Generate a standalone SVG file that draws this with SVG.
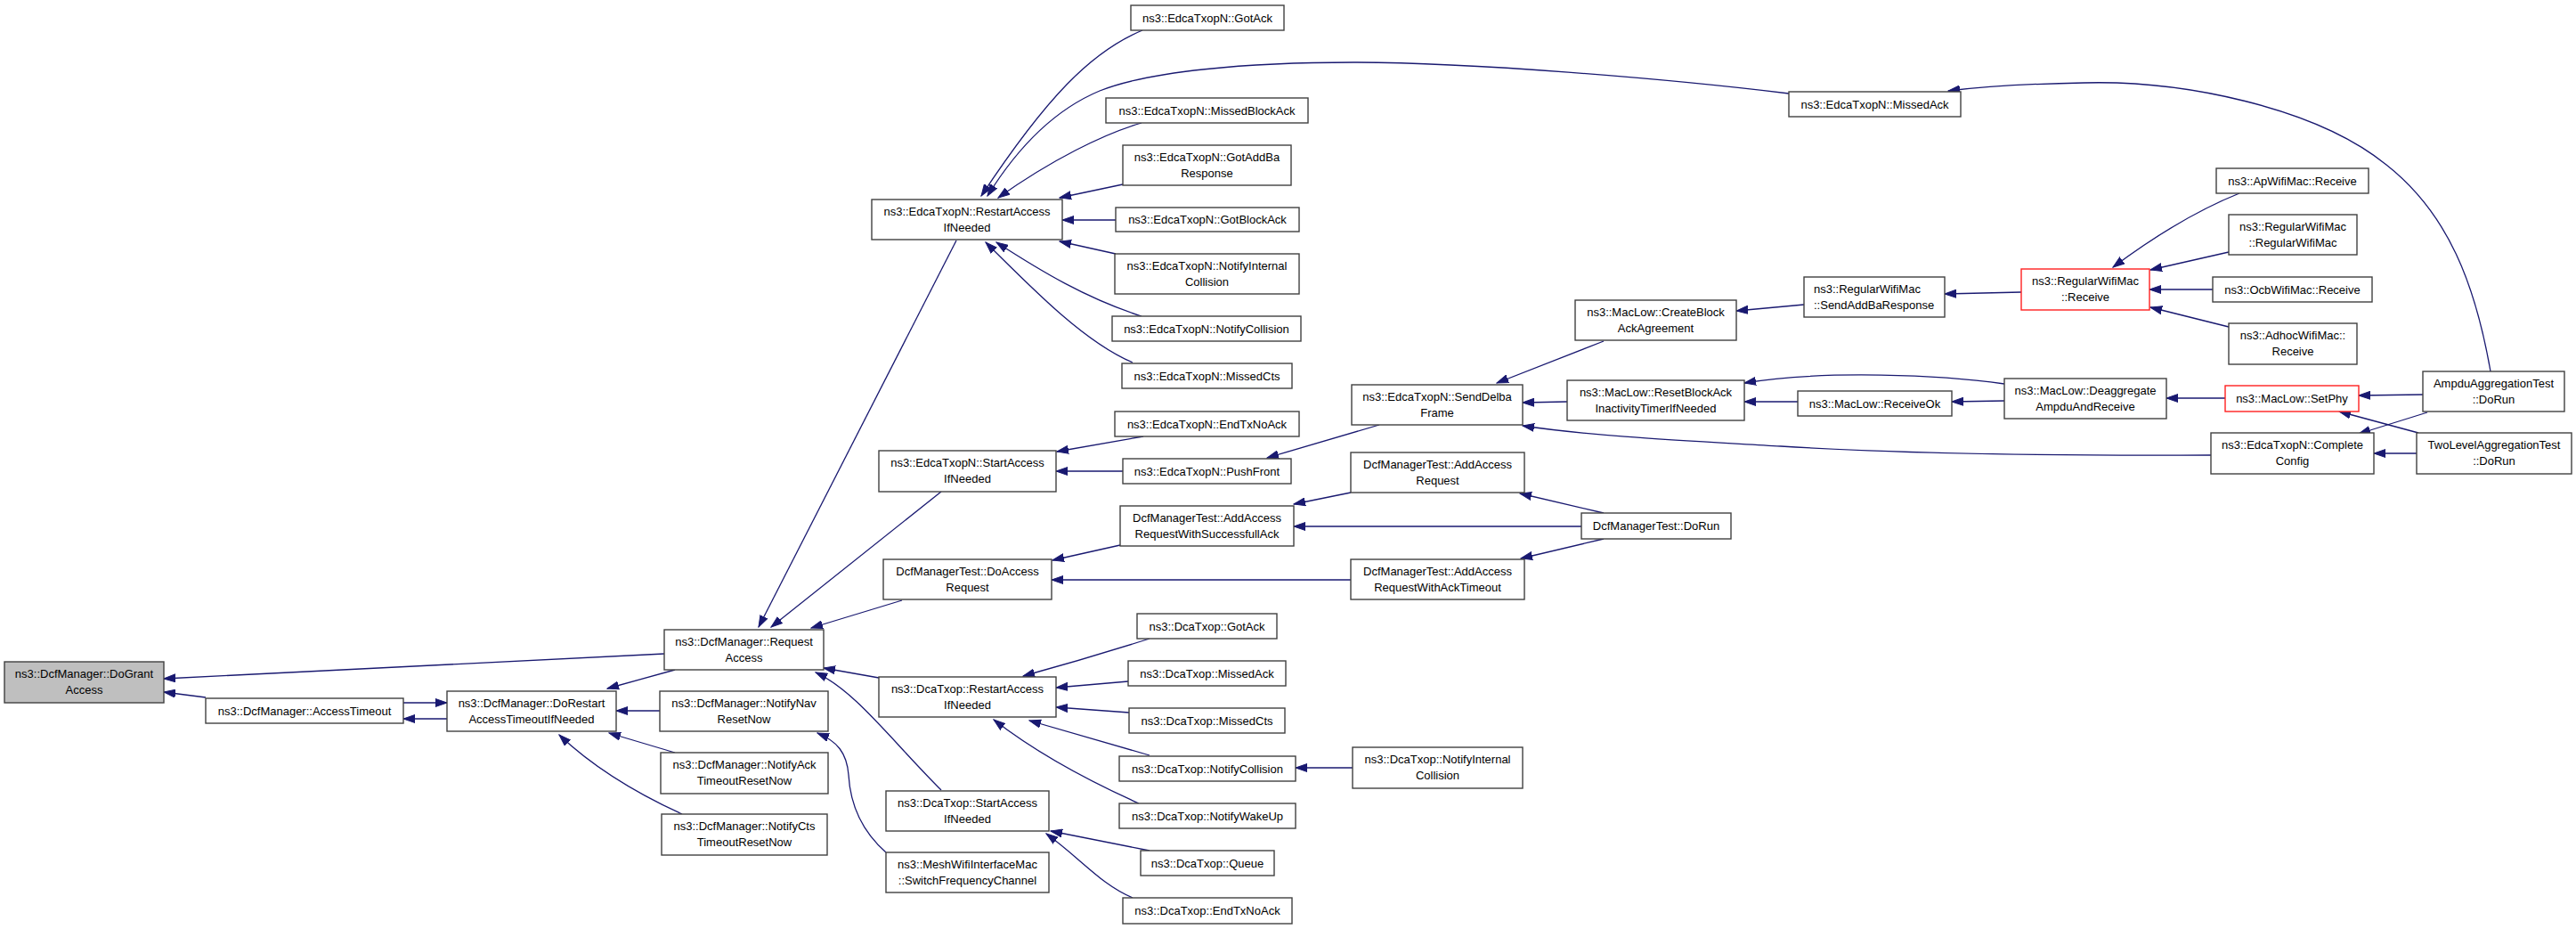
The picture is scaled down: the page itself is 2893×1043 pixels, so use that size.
<svg xmlns="http://www.w3.org/2000/svg" width="2893" height="1043" viewBox="0 0 2893 1043">
<style>
.node rect{fill:#ffffff;stroke:#404040;stroke-width:1.4}
.node.hl rect{fill:#bfbfbf}
.node.red rect{stroke:#ff2020}
.node text{font-family:"Liberation Sans",Arial,sans-serif;font-size:13px;text-anchor:middle;fill:#000}
.node text.l{text-anchor:start}
.edge path{fill:none;stroke:#191970;stroke-width:1.3;marker-end:url(#arr)}
</style>
<defs>
<marker id="arr" markerUnits="userSpaceOnUse" markerWidth="14" markerHeight="10" refX="13" refY="5" orient="auto"><path d="M0,0.5 L13,5 L0,9.5 z" fill="#191970" stroke="#191970" stroke-width="1"/></marker>
</defs>
<rect width="2893" height="1043" fill="#ffffff"/>
<g id="edges" class="edge">
<path d="M746,734 L184,762"/>
<path d="M231,783 L184,777"/>
<path d="M453,789 L502,789"/>
<path d="M502,807 L453,807"/>
<path d="M758,752 L682,773"/>
<path d="M741,798 L692,798"/>
<path d="M758,845 L684,823"/>
<path d="M766,914 C720,893 670,865 628,825"/>
<path d="M1074,270 L852,704"/>
<path d="M1057,552 L866,704"/>
<path d="M1013,674 L911,705"/>
<path d="M987,761 L925,750"/>
<path d="M1057,887 C1000,830 960,775 916,755"/>
<path d="M995,957 C970,935 955,905 953,870 C951,845 940,832 918,823"/>
<path d="M1283,34 C1225,58 1175,110 1102,220"/>
<path d="M2009,105 C1870,88 1650,70 1520,70 C1400,70 1290,80 1235,102 C1180,125 1140,170 1109,220"/>
<path d="M1282,138 C1240,150 1180,180 1121,222"/>
<path d="M1261,207 L1190,222"/>
<path d="M1253,247 L1193,247"/>
<path d="M1253,285 L1190,271"/>
<path d="M1282,355 C1220,335 1170,305 1119,272"/>
<path d="M1272,407 C1220,385 1165,330 1107,272"/>
<path d="M1284,490 L1187,507"/>
<path d="M1261,529 L1186,529"/>
<path d="M1549,477 L1423,514"/>
<path d="M1258,612 L1182,629"/>
<path d="M1517,651 L1181,651"/>
<path d="M1291,717 C1250,730 1200,745 1149,759"/>
<path d="M1267,765 L1186,772"/>
<path d="M1268,800 L1186,794"/>
<path d="M1291,848 L1156,809"/>
<path d="M1279,902 C1230,880 1170,850 1116,808"/>
<path d="M1291,955 L1180,933"/>
<path d="M1272,1008 C1235,992 1215,965 1175,936"/>
<path d="M1519,862 L1455,862"/>
<path d="M1517,553 L1453,566"/>
<path d="M1776,591 L1453,591"/>
<path d="M1801,576 L1707,554"/>
<path d="M1801,605 L1708,627"/>
<path d="M2026,342 L1950,349"/>
<path d="M1801,383 L1681,430"/>
<path d="M1760,451 L1710,452"/>
<path d="M2019,451 L1959,451"/>
<path d="M2251,431 C2180,421 2050,415 1959,430"/>
<path d="M2483,511 C2300,512 2150,510 2000,501 C1900,495 1790,490 1710,478"/>
<path d="M2270,328 L2184,330"/>
<path d="M2515,217 C2470,235 2420,265 2373,300"/>
<path d="M2503,283 L2415,303"/>
<path d="M2485,325 L2414,325"/>
<path d="M2503,367 L2415,345"/>
<path d="M2251,450 L2192,451"/>
<path d="M2499,447 L2433,447"/>
<path d="M2721,443 L2649,444"/>
<path d="M2726,463 L2649,487"/>
<path d="M2716,486 L2627,462"/>
<path d="M2714,509 L2666,509"/>
<path d="M2797,417 C2780,320 2750,240 2680,185 C2600,120 2450,90 2340,93 C2280,94 2230,97 2188,102"/>
</g>
<g id="n_dogrant" class="node hl"><rect x="5" y="743" width="179" height="46"/><text x="94.5" y="761">ns3::DcfManager::DoGrant</text><text x="94.5" y="778.5">Access</text></g>
<g id="n_accesstimeout" class="node"><rect x="231" y="784" width="222" height="28"/><text x="342" y="802.5">ns3::DcfManager::AccessTimeout</text></g>
<g id="n_dorestart" class="node"><rect x="502" y="776" width="190" height="45"/><text x="597" y="794">ns3::DcfManager::DoRestart</text><text x="597" y="811.5">AccessTimeoutIfNeeded</text></g>
<g id="n_requestaccess" class="node"><rect x="746" y="707" width="179" height="45"/><text x="835.5" y="725">ns3::DcfManager::Request</text><text x="835.5" y="742.5">Access</text></g>
<g id="n_notifynav" class="node"><rect x="741" y="776" width="189" height="45"/><text x="835.5" y="794">ns3::DcfManager::NotifyNav</text><text x="835.5" y="811.5">ResetNow</text></g>
<g id="n_notifyack" class="node"><rect x="742" y="845" width="188" height="46"/><text x="836" y="863">ns3::DcfManager::NotifyAck</text><text x="836" y="880.5">TimeoutResetNow</text></g>
<g id="n_notifycts" class="node"><rect x="743" y="914" width="186" height="46"/><text x="836" y="932">ns3::DcfManager::NotifyCts</text><text x="836" y="949.5">TimeoutResetNow</text></g>
<g id="n_edca_restart" class="node"><rect x="979" y="224" width="214" height="45"/><text x="1086" y="242">ns3::EdcaTxopN::RestartAccess</text><text x="1086" y="259.5">IfNeeded</text></g>
<g id="n_edca_startaccess" class="node"><rect x="987" y="506" width="199" height="46"/><text x="1086.5" y="524">ns3::EdcaTxopN::StartAccess</text><text x="1086.5" y="541.5">IfNeeded</text></g>
<g id="n_doaccessrequest" class="node"><rect x="992" y="628" width="189" height="45"/><text x="1086.5" y="646">DcfManagerTest::DoAccess</text><text x="1086.5" y="663.5">Request</text></g>
<g id="n_dca_restart" class="node"><rect x="987" y="760" width="199" height="45"/><text x="1086.5" y="778">ns3::DcaTxop::RestartAccess</text><text x="1086.5" y="795.5">IfNeeded</text></g>
<g id="n_dca_startaccess" class="node"><rect x="995" y="888" width="183" height="45"/><text x="1086.5" y="906">ns3::DcaTxop::StartAccess</text><text x="1086.5" y="923.5">IfNeeded</text></g>
<g id="n_switchfreq" class="node"><rect x="995" y="957" width="183" height="45"/><text x="1086.5" y="975">ns3::MeshWifiInterfaceMac</text><text x="1086.5" y="992.5">::SwitchFrequencyChannel</text></g>
<g id="n_edca_gotack" class="node"><rect x="1270" y="6" width="172" height="28"/><text x="1356" y="24.5">ns3::EdcaTxopN::GotAck</text></g>
<g id="n_edca_missedblockack" class="node"><rect x="1242" y="110" width="227" height="28"/><text x="1355.5" y="128.5">ns3::EdcaTxopN::MissedBlockAck</text></g>
<g id="n_edca_gotaddba" class="node"><rect x="1261" y="163" width="189" height="45"/><text x="1355.5" y="181">ns3::EdcaTxopN::GotAddBa</text><text x="1355.5" y="198.5">Response</text></g>
<g id="n_edca_gotblockack" class="node"><rect x="1253" y="233" width="206" height="27"/><text x="1356" y="251">ns3::EdcaTxopN::GotBlockAck</text></g>
<g id="n_edca_notifyinternal" class="node"><rect x="1252" y="285" width="207" height="45"/><text x="1355.5" y="303">ns3::EdcaTxopN::NotifyInternal</text><text x="1355.5" y="320.5">Collision</text></g>
<g id="n_edca_notifycollision" class="node"><rect x="1249" y="355" width="212" height="28"/><text x="1355" y="373.5">ns3::EdcaTxopN::NotifyCollision</text></g>
<g id="n_edca_missedcts" class="node"><rect x="1260" y="408" width="191" height="28"/><text x="1355.5" y="426.5">ns3::EdcaTxopN::MissedCts</text></g>
<g id="n_edca_endtxnoack" class="node"><rect x="1252" y="462" width="207" height="28"/><text x="1355.5" y="480.5">ns3::EdcaTxopN::EndTxNoAck</text></g>
<g id="n_edca_pushfront" class="node"><rect x="1261" y="515" width="189" height="28"/><text x="1355.5" y="533.5">ns3::EdcaTxopN::PushFront</text></g>
<g id="n_addaccess_success" class="node"><rect x="1258" y="568" width="195" height="45"/><text x="1355.5" y="586">DcfManagerTest::AddAccess</text><text x="1355.5" y="603.5">RequestWithSuccessfullAck</text></g>
<g id="n_dca_gotack" class="node"><rect x="1277" y="689" width="157" height="28"/><text x="1355.5" y="707.5">ns3::DcaTxop::GotAck</text></g>
<g id="n_dca_missedack" class="node"><rect x="1267" y="742" width="177" height="28"/><text x="1355.5" y="760.5">ns3::DcaTxop::MissedAck</text></g>
<g id="n_dca_missedcts" class="node"><rect x="1268" y="795" width="175" height="28"/><text x="1355.5" y="813.5">ns3::DcaTxop::MissedCts</text></g>
<g id="n_dca_notifycollision" class="node"><rect x="1257" y="849" width="198" height="28"/><text x="1356" y="867.5">ns3::DcaTxop::NotifyCollision</text></g>
<g id="n_dca_notifywakeup" class="node"><rect x="1257" y="902" width="198" height="28"/><text x="1356" y="920.5">ns3::DcaTxop::NotifyWakeUp</text></g>
<g id="n_dca_queue" class="node"><rect x="1281" y="955" width="150" height="28"/><text x="1356" y="973.5">ns3::DcaTxop::Queue</text></g>
<g id="n_dca_endtxnoack" class="node"><rect x="1261" y="1008" width="190" height="29"/><text x="1356" y="1026.5">ns3::DcaTxop::EndTxNoAck</text></g>
<g id="n_senddelba" class="node"><rect x="1518" y="432" width="192" height="45"/><text x="1614" y="450">ns3::EdcaTxopN::SendDelba</text><text x="1614" y="467.5">Frame</text></g>
<g id="n_addaccessrequest" class="node"><rect x="1517" y="508" width="195" height="45"/><text x="1614.5" y="526">DcfManagerTest::AddAccess</text><text x="1614.5" y="543.5">Request</text></g>
<g id="n_addaccess_acktimeout" class="node"><rect x="1517" y="628" width="195" height="45"/><text x="1614.5" y="646">DcfManagerTest::AddAccess</text><text x="1614.5" y="663.5">RequestWithAckTimeout</text></g>
<g id="n_dca_notifyinternal" class="node"><rect x="1519" y="839" width="191" height="46"/><text x="1614.5" y="857">ns3::DcaTxop::NotifyInternal</text><text x="1614.5" y="874.5">Collision</text></g>
<g id="n_createblock" class="node"><rect x="1769" y="337" width="181" height="45"/><text x="1859.5" y="355">ns3::MacLow::CreateBlock</text><text x="1859.5" y="372.5">AckAgreement</text></g>
<g id="n_resetblock" class="node"><rect x="1760" y="427" width="199" height="45"/><text x="1859.5" y="445">ns3::MacLow::ResetBlockAck</text><text x="1859.5" y="462.5">InactivityTimerIfNeeded</text></g>
<g id="n_dorun" class="node"><rect x="1776" y="576" width="168" height="29"/><text x="1860" y="594.5">DcfManagerTest::DoRun</text></g>
<g id="n_edca_missedack" class="node"><rect x="2009" y="103" width="193" height="28"/><text x="2105.5" y="121.5">ns3::EdcaTxopN::MissedAck</text></g>
<g id="n_sendaddba" class="node"><rect x="2026" y="311" width="158" height="45"/><text class="l" x="2037" y="329">ns3::RegularWifiMac</text><text class="l" x="2037" y="346.5">::SendAddBaResponse</text></g>
<g id="n_receiveok" class="node"><rect x="2019" y="439" width="173" height="28"/><text x="2105.5" y="457.5">ns3::MacLow::ReceiveOk</text></g>
<g id="n_rw_receive" class="node red"><rect x="2270" y="302" width="144" height="46"/><text x="2342" y="320">ns3::RegularWifiMac</text><text x="2342" y="337.5">::Receive</text></g>
<g id="n_deaggregate" class="node"><rect x="2251" y="425" width="182" height="45"/><text x="2342" y="443">ns3::MacLow::Deaggregate</text><text x="2342" y="460.5">AmpduAndReceive</text></g>
<g id="n_apwifi" class="node"><rect x="2489" y="189" width="171" height="28"/><text x="2574.5" y="207.5">ns3::ApWifiMac::Receive</text></g>
<g id="n_rw_rw" class="node"><rect x="2503" y="241" width="144" height="45"/><text x="2575" y="259">ns3::RegularWifiMac</text><text x="2575" y="276.5">::RegularWifiMac</text></g>
<g id="n_ocb" class="node"><rect x="2485" y="311" width="179" height="28"/><text x="2574.5" y="329.5">ns3::OcbWifiMac::Receive</text></g>
<g id="n_adhoc" class="node"><rect x="2503" y="363" width="144" height="46"/><text x="2575" y="381">ns3::AdhocWifiMac::</text><text x="2575" y="398.5">Receive</text></g>
<g id="n_setphy" class="node red"><rect x="2499" y="433" width="150" height="29"/><text x="2574" y="452">ns3::MacLow::SetPhy</text></g>
<g id="n_completeconfig" class="node"><rect x="2483" y="486" width="183" height="46"/><text x="2574.5" y="504">ns3::EdcaTxopN::Complete</text><text x="2574.5" y="521.5">Config</text></g>
<g id="n_ampdu" class="node"><rect x="2721" y="417" width="159" height="45"/><text x="2800.5" y="435">AmpduAggregationTest</text><text x="2800.5" y="452.5">::DoRun</text></g>
<g id="n_twolevel" class="node"><rect x="2714" y="486" width="174" height="46"/><text x="2801" y="504">TwoLevelAggregationTest</text><text x="2801" y="521.5">::DoRun</text></g>
</svg>
